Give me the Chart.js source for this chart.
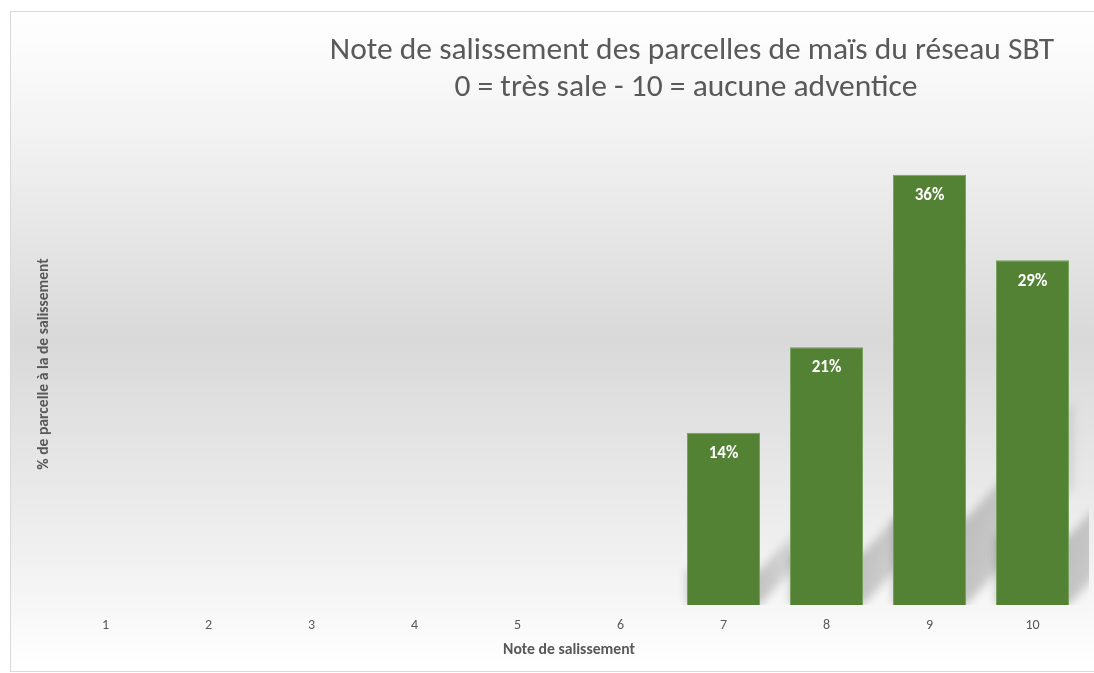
<!DOCTYPE html>
<html lang="fr">
<head>
<meta charset="utf-8">
<title>Note de salissement</title>
<script src="https://cdn.jsdelivr.net/npm/chart.js@4/dist/chart.umd.min.js"></script>
<style>
  html, body { margin: 0; padding: 0; background: #fff; }
  #wrap { width: 1094px; height: 673px; position: relative; }
</style>
</head>
<body>
<div id="wrap"><canvas id="graph"></canvas></div>
<script>
const notes        = ['1', '2', '3', '4', '5', '6', '7', '8', '9', '10'];
const pctParcelles = [null, null, null, null, null, null, 14.3, 21.4, 35.7, 28.6];
const titre        = ['Note de salissement des parcelles de maïs du réseau SBT', '0 = très sale - 10 = aucune adventice'];
const titreX       = 'Note de salissement';
const titreY       = '% de parcelle à la de salissement';

const police = "Carlito, Lato, 'Open Sans', sans-serif";
const gris   = '#595959';
const vert   = '#548235';

// fond dégradé + cadre
const fond = {
    id: 'fond',
    beforeDraw(chart) {
        const ctx = chart.ctx;
        const w = chart.width, h = chart.height;
        ctx.save();
        const g = ctx.createLinearGradient(0, 11, 0, h - 2);
        g.addColorStop(0,    '#ffffff');
        g.addColorStop(0.15, '#f5f5f5');
        g.addColorStop(0.5,  '#d9d9d9');
        g.addColorStop(0.82, '#f0f0f0');
        g.addColorStop(1,    '#ffffff');
        ctx.fillStyle = g;
        ctx.fillRect(10, 11, w - 10, h - 13);
        ctx.strokeStyle = '#d9d9d9';
        ctx.lineWidth = 1;
        ctx.strokeRect(10.5, 11.5, w, h - 13);
        ctx.restore();
    },
    afterDraw(chart) {
        // titre sur deux lignes, décalé vers la droite comme dans Excel
        const ctx = chart.ctx;
        ctx.save();
        ctx.fillStyle = gris;
        ctx.font = '31.5px ' + police;
        ctx.textAlign = 'center';
        ctx.textBaseline = 'alphabetic';
        ctx.fillText(titre[0], 692, 59);
        ctx.fillText(titre[1], 686, 96);
        ctx.restore();
    }
};

// ombre portée en perspective derrière les barres
const ombres = {
    id: 'ombres',
    beforeDatasetsDraw(chart) {
        const ctx  = chart.ctx;
        const area = chart.chartArea;
        ctx.save();
        ctx.beginPath();
        ctx.rect(area.left, area.top, area.right - area.left + 5, area.bottom - area.top);
        ctx.clip();
        ctx.filter = 'blur(4px)';
        chart.getDatasetMeta(0).data.forEach((bar, i) => {
            if (pctParcelles[i] == null) return;
            const p  = bar.getProps(['x', 'y', 'base', 'width'], true);
            const xl = p.x - p.width / 2, xr = p.x + p.width / 2;
            const hh = p.base - p.y;
            const d  = hh * 0.25, l = hh * 0.2;
            const g  = ctx.createLinearGradient(xr, 0, xr + d, 0);
            g.addColorStop(0, 'rgba(0,0,0,0.2)');
            g.addColorStop(1, 'rgba(0,0,0,0.08)');
            ctx.fillStyle = g;
            ctx.beginPath();
            ctx.moveTo(xl, p.base);
            ctx.lineTo(xr, p.base);
            ctx.lineTo(xr + d, p.base - d * 1.1);
            ctx.lineTo(xr + d, p.base - d * 1.1 - l);
            ctx.lineTo(xr, p.base - l);
            ctx.lineTo(xl, p.base - l);
            ctx.closePath();
            ctx.fill();
        });
        ctx.restore();
    },
    afterDatasetsDraw(chart) {
        // étiquettes de valeurs dans le haut des barres
        const ctx = chart.ctx;
        ctx.save();
        ctx.fillStyle = '#ffffff';
        ctx.font = 'bold 17px ' + police;
        ctx.textAlign = 'center';
        ctx.textBaseline = 'middle';
        chart.getDatasetMeta(0).data.forEach((bar, i) => {
            const v = pctParcelles[i];
            if (v == null) return;
            const p = bar.getProps(['x', 'y'], true);
            ctx.fillText(Math.round(v) + '%', p.x, p.y + 21);
        });
        ctx.restore();
    }
};

new Chart(document.getElementById('graph'), {
    type: 'bar',
    data: {
        labels: notes,
        datasets: [{
            data: pctParcelles,
            backgroundColor: vert,
            borderColor: '#76a05a',
            borderWidth: 1,
            barPercentage: 0.71,
            categoryPercentage: 1,
        }]
    },
    options: {
        responsive: true,
        maintainAspectRatio: false,
        animation: false,
        layout: { padding: { top: 123, left: 10, right: 10, bottom: 2 } },
        plugins: {
            legend:  { display: false },
            tooltip: { enabled: false },
        },
        scales: {
            x: {
                grid:   { display: false, drawTicks: false },
                border: { display: false },
                ticks:  { color: gris, font: { family: police, size: 14 }, padding: 12 },
                title:  { display: true, text: titreX, color: gris,
                          font: { family: police, size: 15.7, weight: 'bold' }, padding: { top: 0, bottom: 12 } },
                afterFit(s) { s.height = 66; },
            },
            y: {
                min: 0,
                max: 40,
                grid:   { display: false, drawTicks: false },
                border: { display: false },
                ticks:  { display: false },
                title:  { display: true, text: titreY, color: gris,
                          font: { family: police, size: 15.6, weight: 'bold' }, padding: { top: 25 } },
                afterFit(s) { s.width = 44; },
            }
        }
    },
    plugins: [fond, ombres]
});
</script>
</body>
</html>
